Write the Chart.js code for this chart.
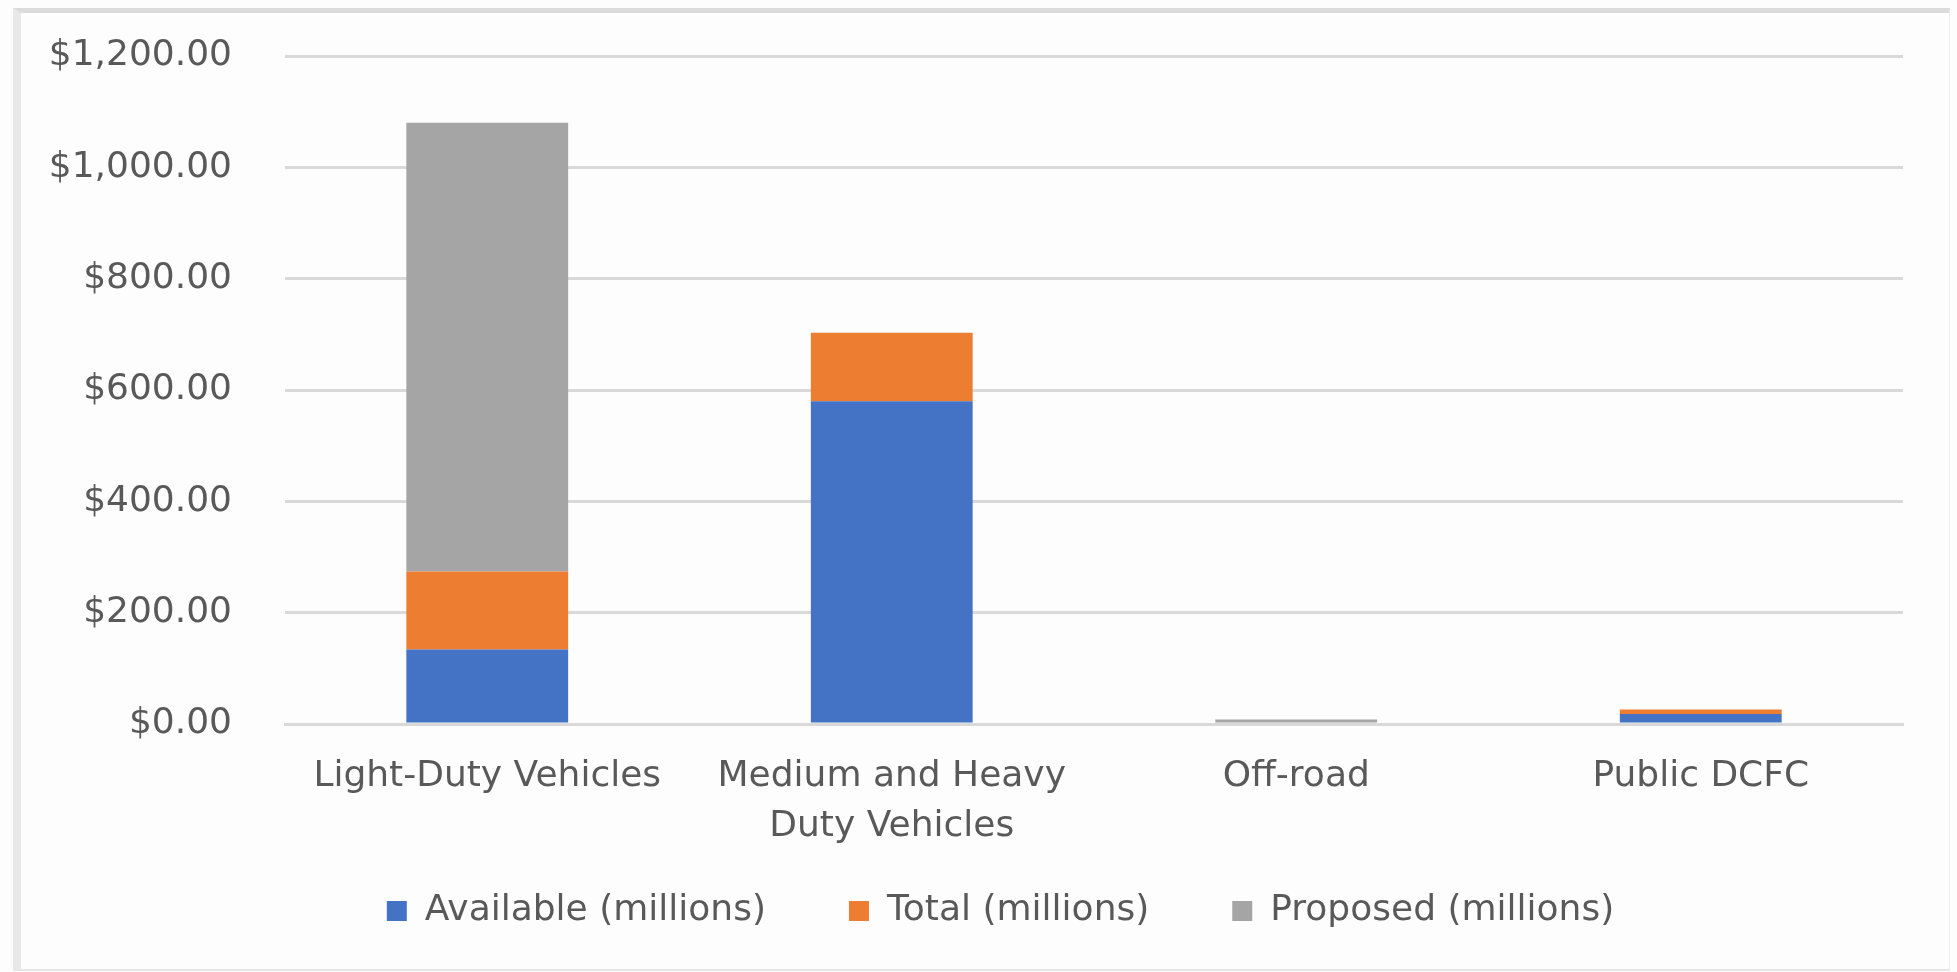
<!DOCTYPE html>
<html>
<head>
<meta charset="utf-8">
<script src="https://cdn.jsdelivr.net/npm/chart.js@4/dist/chart.umd.min.js"></script>
<style>
  html, body { margin: 0; padding: 0; background: #fdfdfd; }
  .wrap { position: relative; width: 1957px; height: 972px; }
  .frame {
    position: absolute; left: 13px; top: 8px; width: 1928px; height: 956px;
    border-left: 8px solid #e8e8e8; border-top: 5px solid #dcdcdc;
    border-right: 1px solid #ececec; border-bottom: 2px solid #e4e4e4;
  }
  canvas { position: absolute; left: 0; top: 0; }
</style>
</head>
<body>
<div class="wrap">
  <div class="frame"></div>
  <canvas id="funding" width="1957" height="972"></canvas>
</div>
<script>
const categories = ['Light-Duty Vehicles', ['Medium and Heavy', 'Duty Vehicles'], 'Off-road', 'Public DCFC'];
const available = [134, 580, 0, 18];
const total = [140, 123, 0, 8];
const proposed = [806, 0, 8, 0];
const yTicks = [0, 200, 400, 600, 800, 1000, 1200];

const FONT = '"DejaVu Sans", sans-serif';
const TEXT = '#595959';
const GRID = '#d9d9d9';

const money = v => '$' + v.toLocaleString('en-US', { minimumFractionDigits: 2, maximumFractionDigits: 2 });

// the legend row sits a bit higher and further right than Chart.js places it
const legendNudge = {
  id: 'legendNudge',
  afterLayout(chart) {
    const lg = chart.legend;
    lg.left += 34;
    lg.right += 34;
    lg.top -= 39;
  }
};

new Chart(document.getElementById('funding'), {
  type: 'bar',
  data: {
    labels: categories,
    datasets: [
      { label: 'Available (millions)', data: available, backgroundColor: '#4472c4' },
      { label: 'Total (millions)', data: total, backgroundColor: '#ed7d31' },
      { label: 'Proposed (millions)', data: proposed, backgroundColor: '#a5a5a5' }
    ]
  },
  plugins: [legendNudge],
  options: {
    responsive: false,
    animation: false,
    layout: { padding: { left: 30, right: 54, top: 56, bottom: 7 } },
    datasets: { bar: { categoryPercentage: 1, barPercentage: 0.4 } },
    plugins: {
      tooltip: { enabled: false },
      legend: {
        position: 'bottom',
        maxHeight: 116,
        labels: {
          font: { family: FONT, size: 36 },
          color: TEXT,
          boxWidth: 20,
          boxHeight: 20,
          padding: 83
        }
      }
    },
    scales: {
      x: {
        stacked: true,
        grid: { display: false },
        border: { color: GRID, width: 3 },
        ticks: { color: TEXT, font: { family: FONT, size: 36, lineHeight: 1.4 }, padding: 19, maxRotation: 0, autoSkip: false },
        afterFit: s => { s.height = 125; s.paddingLeft = 0; s.paddingRight = 0; }
      },
      y: {
        stacked: true,
        min: 0,
        max: 1200,
        afterBuildTicks: s => { s.ticks = yTicks.map(v => ({ value: v })); },
        grid: { color: GRID, lineWidth: 3, drawTicks: false },
        border: { display: false },
        ticks: { color: TEXT, font: { family: FONT, size: 36 }, padding: 53, callback: money },
        afterFit: s => { s.width = 255; s.paddingTop = 0; s.paddingBottom = 0; }
      }
    }
  }
});
</script>
</body>
</html>
